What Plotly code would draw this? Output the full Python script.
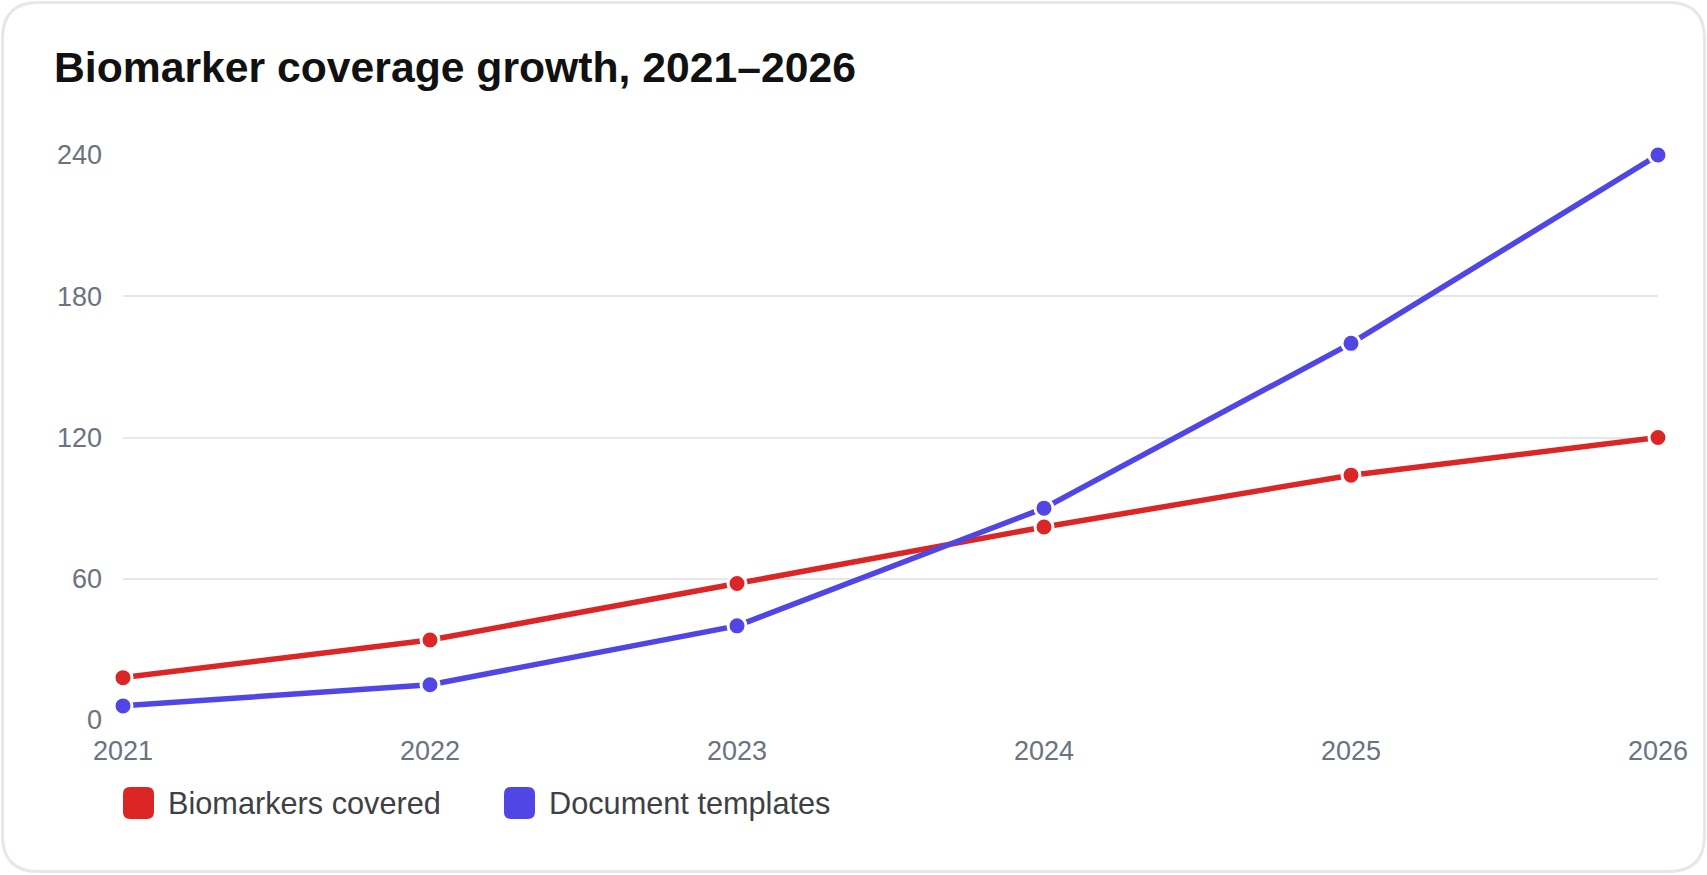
import plotly.graph_objects as go

years = [2021, 2022, 2023, 2024, 2025, 2026]
biomarkers = [18, 34, 58, 82, 104, 120]
templates = [6, 15, 40, 90, 160, 240]
series_names = ["Biomarkers covered", "Document templates"]
colors = ["#dc2626", "#4f46e5"]
y_ticks = [0, 60, 120, 180, 240]

W, H = 1707, 875
ML, MR, MT, MB = 123, 49, 155, 155
PW = W - ML - MR
PH = H - MT - MB

def px2paper(x, y):
    return (x - ML) / PW, (H - MB - y) / PH

fig = go.Figure()
for name, vals, col in zip(series_names, [biomarkers, templates], colors):
    fig.add_trace(go.Scatter(
        x=years, y=vals, name=name, mode="lines+markers",
        line=dict(color=col, width=5.5),
        marker=dict(size=18, color=col, line=dict(color="white", width=3)),
        cliponaxis=False, showlegend=False,
    ))

# card border (rounded rectangle) in paper coordinates
def rounded_rect(x0, y0, x1, y1, r):
    def p(x, y):
        a, b = px2paper(x, y)
        return f"{a:.6f},{b:.6f}"
    return (f"M {p(x0+r, y0)} L {p(x1-r, y0)} Q {p(x1, y0)} {p(x1, y0+r)} "
            f"L {p(x1, y1-r)} Q {p(x1, y1)} {p(x1-r, y1)} L {p(x0+r, y1)} "
            f"Q {p(x0, y1)} {p(x0, y1-r)} L {p(x0, y0+r)} Q {p(x0, y0)} {p(x0+r, y0)} Z")

shapes = [dict(type="path", path=rounded_rect(2.5, 2.5, 1704.5, 871.5, 36),
               xref="paper", yref="paper", line=dict(color="#e5e7eb", width=3),
               fillcolor="rgba(0,0,0,0)", layer="below")]

# manual legend
legend_items = [(123, 166), (504, 547)]
annotations = []
for (sx, tx), name, col in zip(legend_items, series_names, colors):
    shapes.append(dict(type="path", path=rounded_rect(sx, 787, sx + 31, 819, 7),
                       xref="paper", yref="paper", line=dict(width=0),
                       fillcolor=col, layer="above"))
    ax, ay = px2paper(tx, 803)
    annotations.append(dict(text=name, x=ax, y=ay, xref="paper", yref="paper",
                            xanchor="left", yanchor="middle", showarrow=False,
                            font=dict(size=30.7, color="#3f3f46",
                                      family="Liberation Sans, Arial, sans-serif")))

fig.update_layout(
    width=W, height=H,
    margin=dict(l=ML, r=MR, t=MT, b=MB),
    paper_bgcolor="white", plot_bgcolor="white",
    title=dict(text="Biomarker coverage growth, 2021–2026",
               x=54 / W, xanchor="left", xref="container",
               y=1 - 67.5 / H, yanchor="middle", yref="container",
               font=dict(size=42.7, color="#111111", weight=700,
                         family="Liberation Sans, Arial, sans-serif")),
    font=dict(family="Liberation Sans, Arial, sans-serif"),
    xaxis=dict(range=[2021, 2026], tickvals=years, ticktext=[str(y) for y in years],
               showgrid=False, zeroline=False, showline=False,
               tickfont=dict(size=27, color="#6b7280"), ticks="", ticklabelstandoff=12),
    yaxis=dict(range=[0, 240], tickvals=y_ticks, showgrid=True, gridcolor="#e5e7eb",
               gridwidth=2, zeroline=False, showline=False,
               tickfont=dict(size=27, color="#6b7280"), ticks="", ticklabelstandoff=20),
    shapes=shapes, annotations=annotations, showlegend=False,
)

fig.write_html("out.html")
